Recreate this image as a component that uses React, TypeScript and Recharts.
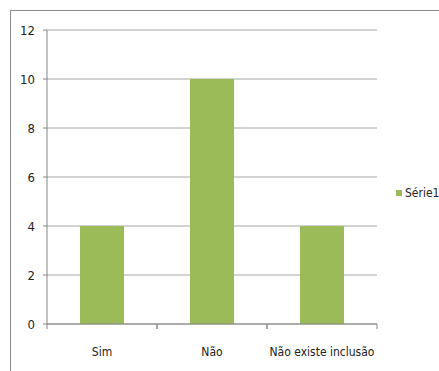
import { BarChart, Bar, XAxis, YAxis, CartesianGrid } from "recharts";

const categories = ["Sim", "Não", "Não existe inclusão"];
const serie1 = [4, 10, 4];
const yTicks = [0, 2, 4, 6, 8, 10, 12];
const seriesName = "Série1";

const data = categories.map((name, i) => ({ name, value: serie1[i] }));

const FONT = '"Liberation Sans Narrow", "DejaVu Sans Condensed", sans-serif';
const BAR = "#9BBB59";

function XTick(props: any) {
  const { x, y, payload } = props;
  const off = payload.offset || 0;
  return (
    <g>
      <line x1={x - off} x2={x - off} y1={y - 8} y2={y - 3} stroke="#868686" />
      <line x1={x + off} x2={x + off} y1={y - 8} y2={y - 3} stroke="#868686" />
      <text x={x} y={y + 24} textAnchor="middle" fontSize={12} fill="#222" fontFamily={FONT} style={{ fontStretch: "condensed" }}>
        {payload.value}
      </text>
    </g>
  );
}

export default function App() {
  return (
    <div style={{ position: "fixed", left: 0, top: 0, width: 439, height: 371, background: "#fff", overflow: "hidden" }}>
      <div
        style={{
          position: "absolute",
          left: 10,
          top: 10,
          width: 460,
          height: 400,
          borderLeft: "1px solid #8a8a8a",
          borderTop: "1px solid #8a8a8a",
        }}
      />
      <div style={{ position: "absolute", left: 0, top: 0 }}>
        <BarChart width={439} height={371} data={data} margin={{ top: 30, right: 62, bottom: 17, left: 0 }} barCategoryGap="30%">
          <CartesianGrid vertical={false} stroke="#a6a6a6" />
          <XAxis dataKey="name" height={30} axisLine={{ stroke: "#868686" }} tickLine={false} tick={<XTick />} interval={0} />
          <YAxis
            width={47}
            domain={[0, 12]}
            ticks={yTicks}
            axisLine={{ stroke: "#868686" }}
            tickLine={{ stroke: "#868686" }}
            tickSize={4}
            tickMargin={8}
            tick={{ fontSize: 13, fill: "#222", fontFamily: FONT, style: { fontStretch: "condensed" } }}
          />
          <Bar dataKey="value" name={seriesName} fill={BAR} isAnimationActive={false} />
        </BarChart>
      </div>
      <div
        style={{
          position: "absolute",
          left: 396,
          top: 186,
          display: "flex",
          alignItems: "center",
          fontFamily: FONT,
          fontStretch: "condensed",
          fontSize: 12,
          color: "#222",
        }}
      >
        <span style={{ width: 6, height: 6, background: BAR, marginRight: 3, display: "inline-block" }} />
        {seriesName}
      </div>
    </div>
  );
}
